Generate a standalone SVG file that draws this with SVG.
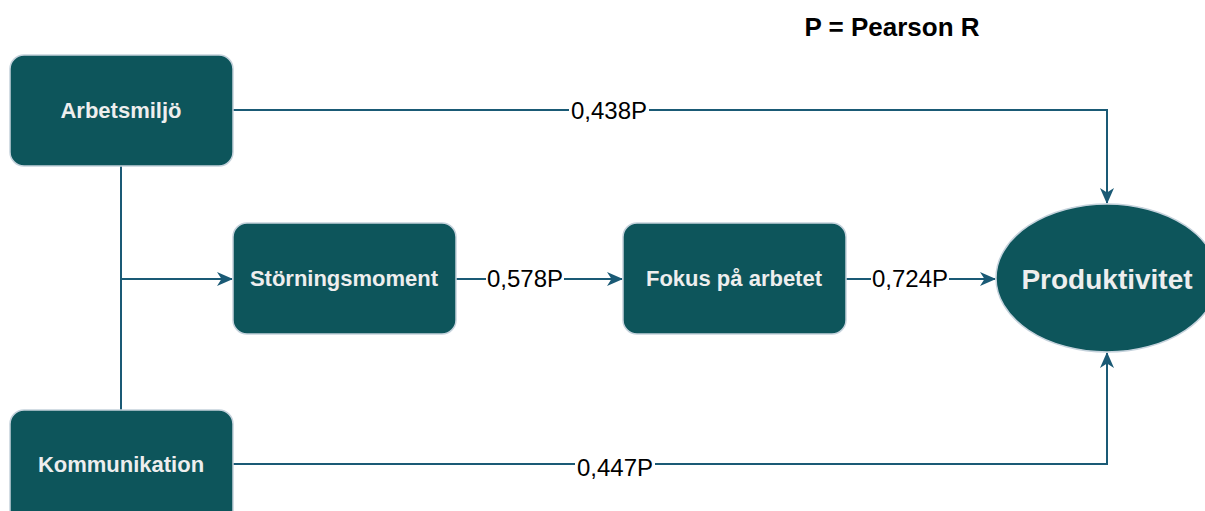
<svg xmlns="http://www.w3.org/2000/svg" width="1205" height="511" viewBox="0 0 1205 511">
<style>
.box{fill:#0d555b;stroke:#c5d2dc;stroke-width:1.5}
.lbl{font-family:"Liberation Sans",Arial,sans-serif;font-weight:bold;fill:#eeeeee;text-anchor:middle;dominant-baseline:central}
.edge{fill:none;stroke:#1a5a75;stroke-width:2}
.el{font-family:"Liberation Sans",Arial,sans-serif;font-size:24px;fill:#000;text-anchor:middle;dominant-baseline:central}
.bg{fill:#fff}
</style>
<defs>
<marker id="arr" viewBox="0 0 16 16" refX="15" refY="8" markerWidth="16" markerHeight="16" markerUnits="userSpaceOnUse" orient="auto">
<path d="M0,1 L16,8 L0,15 L4.5,8 Z" fill="#1a5a75"/>
</marker>
</defs>
<rect width="1205" height="511" fill="#fff"/>
<text x="892" y="27" font-family="Liberation Sans,Arial,sans-serif" font-weight="bold" font-size="26" text-anchor="middle" dominant-baseline="central" fill="#000">P = Pearson R</text>
<g id="connectors">
<path class="edge" d="M233,110 H1107 V203" marker-end="url(#arr)"/>
<path class="edge" d="M121,166 V410"/>
<path class="edge" d="M121,279 H232" marker-end="url(#arr)"/>
<path class="edge" d="M456,279 H622" marker-end="url(#arr)"/>
<path class="edge" d="M846,279 H995" marker-end="url(#arr)"/>
<path class="edge" d="M233,464 H1107 V353" marker-end="url(#arr)"/>
<rect class="bg" x="569" y="97" width="80" height="26"/>
<text class="el" x="609" y="110">0,438P</text>
<rect class="bg" x="486" y="266" width="78" height="26"/>
<text class="el" x="525" y="278">0,578P</text>
<rect class="bg" x="871" y="266" width="78" height="26"/>
<text class="el" x="910" y="278">0,724P</text>
<rect class="bg" x="575" y="454" width="80" height="26"/>
<text class="el" x="615" y="467">0,447P</text>
</g>
<g id="arbetsmiljo">
<rect class="box" x="10" y="55" width="223" height="111" rx="14"/>
<text class="lbl" x="121" y="110" font-size="22">Arbetsmiljö</text>
</g>
<g id="storningsmoment">
<rect class="box" x="233" y="223" width="223" height="111" rx="14"/>
<text class="lbl" x="344" y="278" font-size="22">Störningsmoment</text>
</g>
<g id="fokus">
<rect class="box" x="623" y="223" width="223" height="111" rx="14"/>
<text class="lbl" x="734" y="278" font-size="22">Fokus på arbetet</text>
</g>
<g id="produktivitet">
<ellipse class="box" cx="1107" cy="278" rx="111" ry="74"/>
<text class="lbl" x="1107" y="279" font-size="28">Produktivitet</text>
</g>
<g id="kommunikation">
<rect class="box" x="10" y="410" width="223" height="115" rx="14"/>
<text class="lbl" x="121" y="464" font-size="22">Kommunikation</text>
</g>
</svg>
